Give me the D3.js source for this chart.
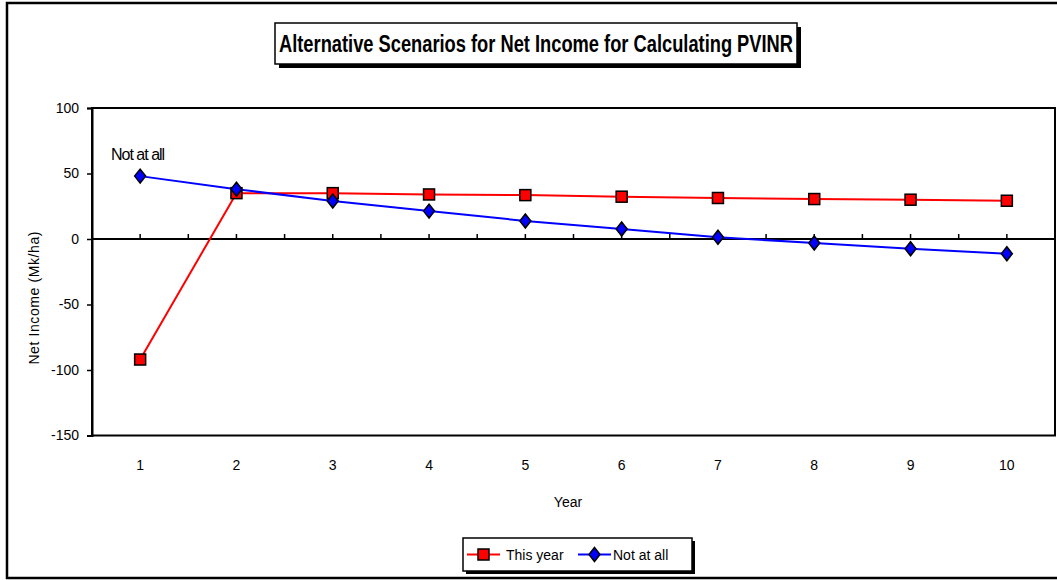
<!DOCTYPE html>
<html>
<head>
<meta charset="utf-8">
<script src="https://cdn.jsdelivr.net/npm/d3@7"></script>
<style>
  html, body { margin: 0; padding: 0; background: #fff; }
  svg { display: block; }
  text { font-family: "Liberation Sans", Arial, sans-serif; fill: #000; }
</style>
</head>
<body>
<svg id="chart" width="1057" height="580"></svg>
<script>
// Years on the category axis
const years = [1, 2, 3, 4, 5, 6, 7, 8, 9, 10];
// Net income (Mk/ha) per scenario
const thisYear = [-92, 35, 35, 34, 33.5, 32.3, 31.3, 30.5, 30, 29.2];
const notAtAll = [48, 38, 29, 21.3, 13.8, 7.6, 1.3, -3, -7.5, -11.2];
const yTicks = [100, 50, 0, -50, -100, -150];

const svg = d3.select("#chart");

// Outer chart frame
svg.append("rect")
  .attr("x", 7).attr("y", 3).attr("width", 1060).attr("height", 575)
  .attr("fill", "none").attr("stroke", "#000").attr("stroke-width", 2.5);

const plot = { left: 92, top: 108, right: 1055, bottom: 435.5 };

const x = d3.scaleBand().domain(years).range([plot.left, plot.right]).paddingInner(0).paddingOuter(0);
const cx = d => x(d) + x.bandwidth() / 2;
const y = d3.scaleLinear().domain([-150, 100]).range([plot.bottom, plot.top]);

// Plot area frame
svg.append("rect")
  .attr("x", plot.left).attr("y", plot.top)
  .attr("width", plot.right - plot.left).attr("height", plot.bottom - plot.top)
  .attr("fill", "none").attr("stroke", "#000").attr("stroke-width", 2);

// Y axis
const yAxis = d3.axisLeft(y).tickValues(yTicks).tickSize(5).tickPadding(8)
  .tickFormat(d => String(d));
const gy = svg.append("g").attr("transform", `translate(${plot.left},0)`).call(yAxis);
gy.select(".domain").attr("stroke-width", 2);
gy.selectAll(".tick line").attr("stroke-width", 1.5);
gy.selectAll("text").style("font-size", "14px").style("font-family", "'Liberation Sans', Arial, sans-serif");

// Horizontal zero line with category ticks (at centres and between categories)
const y0 = y(0);
svg.append("line")
  .attr("x1", plot.left).attr("x2", plot.right)
  .attr("y1", y0).attr("y2", y0)
  .attr("stroke", "#000").attr("stroke-width", 2);
const tickXs = [];
years.forEach(d => { tickXs.push(cx(d)); tickXs.push(x(d) + x.bandwidth()); });
svg.append("g").selectAll("line").data(tickXs.filter(t => t < plot.right - 1)).join("line")
  .attr("x1", d => d).attr("x2", d => d)
  .attr("y1", y0 - 5).attr("y2", y0)
  .attr("stroke", "#000").attr("stroke-width", 1.5);

// Category labels below the plot
svg.append("g").selectAll("text").data(years).join("text")
  .attr("x", d => cx(d)).attr("y", 470)
  .attr("text-anchor", "middle").style("font-size", "14px")
  .text(d => d);

// Axis titles
svg.append("text").attr("x", 568).attr("y", 507).attr("text-anchor", "middle")
  .style("font-size", "14px").text("Year");
svg.append("text")
  .attr("transform", `translate(39,${(plot.top + plot.bottom) / 2 + 26}) rotate(-90)`)
  .attr("text-anchor", "middle").style("font-size", "14px").style("letter-spacing", "0.6px")
  .text("Net Income (Mk/ha)");

// Series lines
const line = d3.line().x((d, i) => cx(years[i])).y(d => y(d));
svg.append("path").datum(thisYear).attr("d", line)
  .attr("fill", "none").attr("stroke", "#ff0000").attr("stroke-width", 2);
svg.append("path").datum(notAtAll).attr("d", line)
  .attr("fill", "none").attr("stroke", "#0000ff").attr("stroke-width", 2);

// Markers
const sq = 11;
svg.append("g").selectAll("rect").data(thisYear).join("rect")
  .attr("x", (d, i) => cx(years[i]) - sq / 2).attr("y", d => y(d) - sq / 2)
  .attr("width", sq).attr("height", sq)
  .attr("fill", "#ff0000").attr("stroke", "#000").attr("stroke-width", 1.5);
const diamond = "M0,-7L5.5,0L0,7L-5.5,0Z";
svg.append("g").selectAll("path").data(notAtAll).join("path")
  .attr("transform", (d, i) => `translate(${cx(years[i])},${y(d)})`)
  .attr("d", diamond)
  .attr("fill", "#0000ff").attr("stroke", "#000").attr("stroke-width", 1.5);

// Data label
svg.append("text").attr("x", 111).attr("y", 160)
  .style("font-size", "16px").style("letter-spacing", "-1px").text("Not at all");

// Title box with shadow
const tb = { x: 275, y: 23, w: 522, h: 41 };
svg.append("rect").attr("x", tb.x + 4).attr("y", tb.y + 4).attr("width", tb.w).attr("height", tb.h).attr("fill", "#000");
svg.append("rect").attr("x", tb.x).attr("y", tb.y).attr("width", tb.w).attr("height", tb.h)
  .attr("fill", "#fff").attr("stroke", "#000").attr("stroke-width", 1.5);
svg.append("text").attr("x", tb.x + tb.w / 2).attr("y", tb.y + 29)
  .attr("text-anchor", "middle").style("font-size", "23px").style("font-weight", "bold")
  .attr("textLength", 514).attr("lengthAdjust", "spacingAndGlyphs")
  .text("Alternative Scenarios for Net Income for Calculating PVINR");

// Legend box with shadow
const lb = { x: 463, y: 538, w: 229, h: 33 };
svg.append("rect").attr("x", lb.x + 3).attr("y", lb.y + 3).attr("width", lb.w).attr("height", lb.h).attr("fill", "#000");
svg.append("rect").attr("x", lb.x).attr("y", lb.y).attr("width", lb.w).attr("height", lb.h)
  .attr("fill", "#fff").attr("stroke", "#000").attr("stroke-width", 1.5);
const ly = lb.y + lb.h / 2;
const legendItems = [
  { name: "This year", color: "#ff0000", kind: "square", x0: 467, tx: 506 },
  { name: "Not at all", color: "#0000ff", kind: "diamond", x0: 578, tx: 613 }
];
legendItems.forEach(it => {
  svg.append("line").attr("x1", it.x0).attr("x2", it.x0 + 33).attr("y1", ly).attr("y2", ly)
    .attr("stroke", it.color).attr("stroke-width", 2);
  if (it.kind === "square") {
    svg.append("rect").attr("x", it.x0 + 16.5 - sq / 2).attr("y", ly - sq / 2)
      .attr("width", sq).attr("height", sq)
      .attr("fill", it.color).attr("stroke", "#000").attr("stroke-width", 1.5);
  } else {
    svg.append("path").attr("transform", `translate(${it.x0 + 16.5},${ly})`).attr("d", diamond)
      .attr("fill", it.color).attr("stroke", "#000").attr("stroke-width", 1.5);
  }
  svg.append("text").attr("x", it.tx).attr("y", ly + 5).style("font-size", "14px").text(it.name);
});
</script>
</body>
</html>
